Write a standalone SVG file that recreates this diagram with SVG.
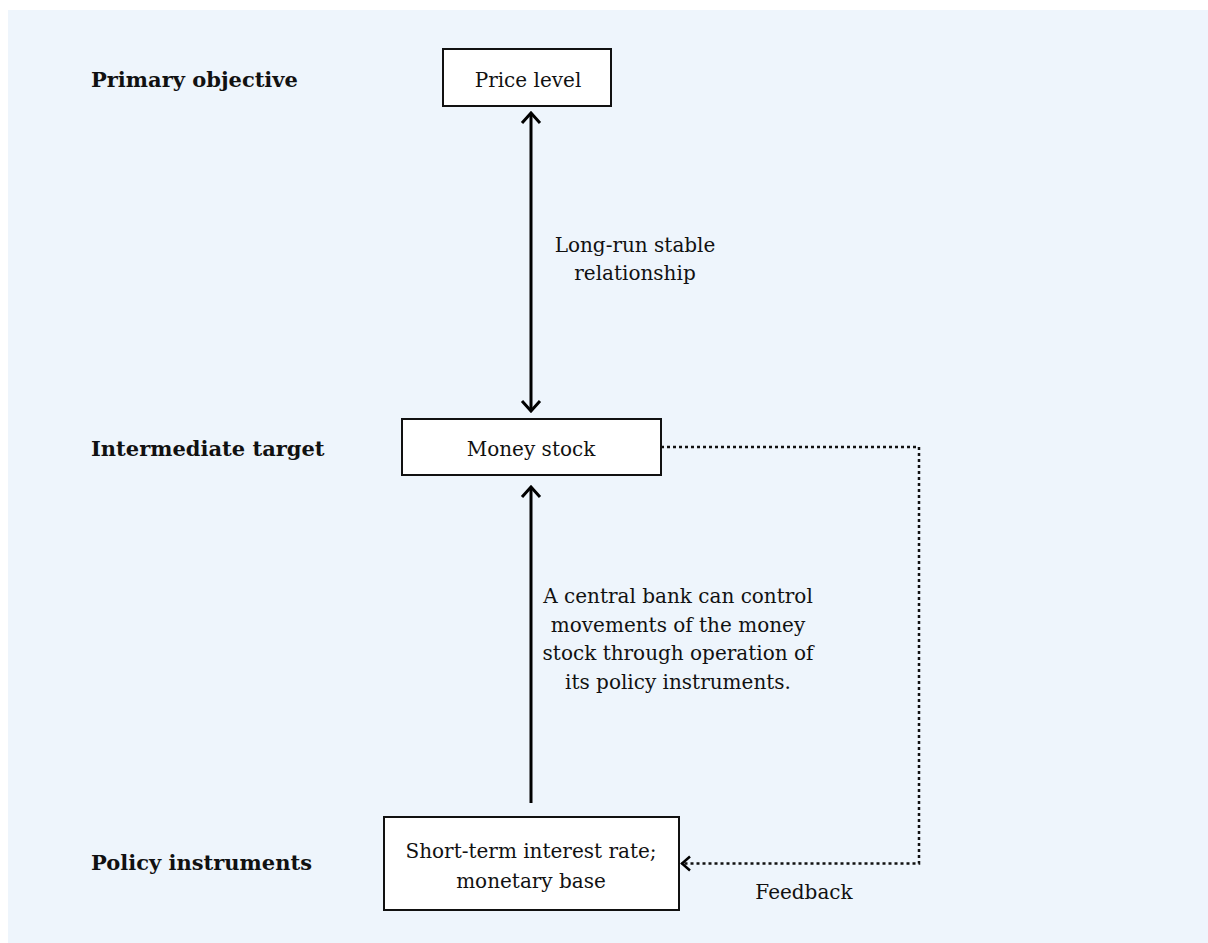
<svg xmlns="http://www.w3.org/2000/svg" width="1208" height="943" viewBox="0 0 1208 943">
<style>
.box{fill:#ffffff;stroke:#111111;stroke-width:2}
.t{font-family:"DejaVu Serif","Liberation Serif",serif;font-size:20px;fill:#111111;text-anchor:middle}
.lbl{font-family:"DejaVu Serif","Liberation Serif",serif;font-size:21px;font-weight:bold;fill:#111111}
.solid{stroke:#000000;stroke-width:3;fill:none}
.dot{stroke:#111111;stroke-width:2.5;stroke-dasharray:3 3;fill:none}
</style>
<defs>
<marker id="head" markerUnits="userSpaceOnUse" markerWidth="14" markerHeight="22" viewBox="0 0 14 22" refX="12" refY="11" orient="auto-start-reverse">
<path d="M2,2 L12,11 L2,20" fill="none" stroke="#000000" stroke-width="3"/>
</marker>
<marker id="headDot" markerUnits="userSpaceOnUse" markerWidth="14" markerHeight="20" viewBox="0 0 14 20" refX="12" refY="10" orient="auto">
<path d="M3,3 L11,10 L3,17" fill="none" stroke="#000000" stroke-width="2.5"/>
</marker>
</defs>
<rect x="0" y="0" width="1208" height="943" fill="#ffffff"/>
<rect x="8" y="10" width="1200" height="933" fill="#eef5fc"/>

<g id="labels">
<text class="lbl" x="91" y="87">Primary objective</text>
<text class="lbl" x="91" y="456">Intermediate target</text>
<text class="lbl" x="91" y="870">Policy instruments</text>
</g>

<g id="connectors">
<line class="solid" x1="531" y1="113" x2="531" y2="411" marker-start="url(#head)" marker-end="url(#head)"/>
<line class="solid" x1="531" y1="803" x2="531" y2="487" marker-end="url(#head)"/>
<path class="dot" d="M661,447 H919 V863.5 H681" marker-end="url(#headDot)"/>
<text class="t" x="635" y="252">Long-run stable</text>
<text class="t" x="635" y="280">relationship</text>
<text class="t" x="678" y="603">A central bank can control</text>
<text class="t" x="678" y="632">movements of the money</text>
<text class="t" x="678" y="660">stock through operation of</text>
<text class="t" x="678" y="689">its policy instruments.</text>
<text class="t" x="804" y="899">Feedback</text>
</g>

<g id="node-price">
<rect class="box" x="443" y="49" width="168" height="57"/>
<text class="t" x="528" y="87">Price level</text>
</g>

<g id="node-money">
<rect class="box" x="402" y="419" width="259" height="56"/>
<text class="t" x="531" y="456">Money stock</text>
</g>

<g id="node-instruments">
<rect class="box" x="384" y="817" width="295" height="93"/>
<text class="t" x="531" y="858">Short-term interest rate;</text>
<text class="t" x="531" y="888">monetary base</text>
</g>
</svg>
